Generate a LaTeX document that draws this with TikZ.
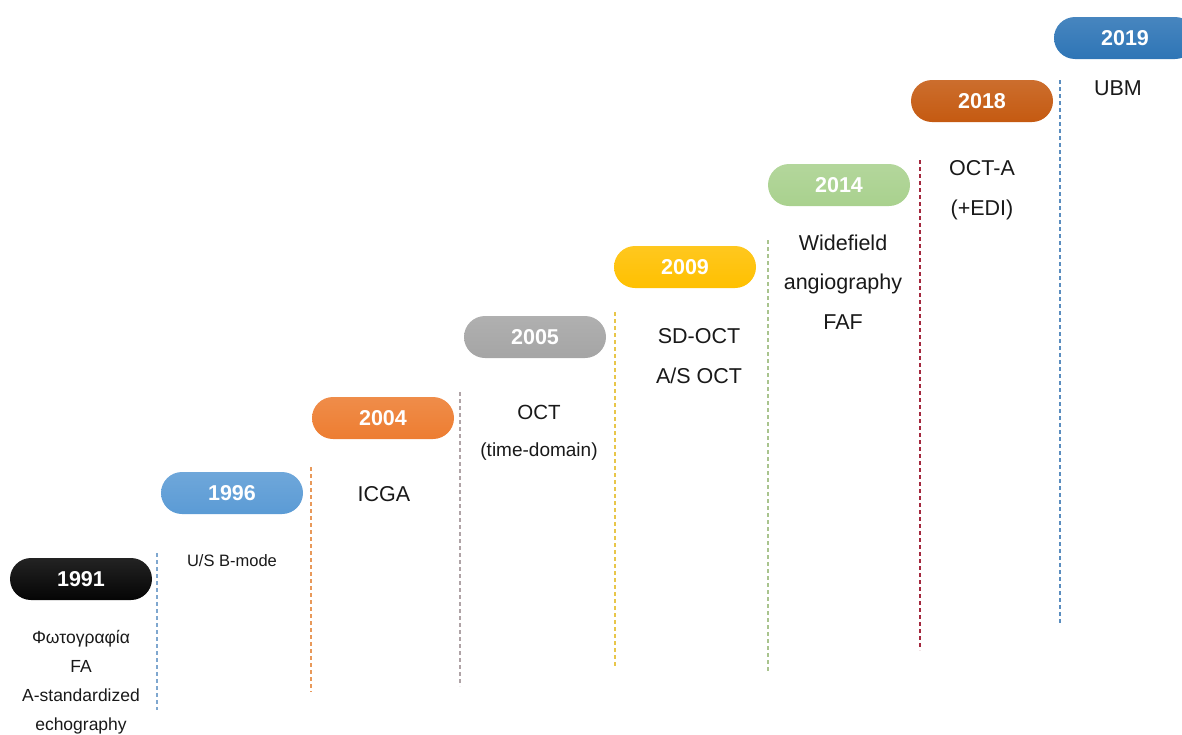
\documentclass[tikz,border=0pt]{standalone}
\usepackage{fontspec}
\setmainfont{Liberation Sans}
\usetikzlibrary{positioning}

% pill colours, one per year
\definecolor{c1991}{HTML}{050505}
\definecolor{c1996}{HTML}{5B9BD5}
\definecolor{c2004}{HTML}{ED7D31}
\definecolor{c2005}{HTML}{A5A5A5}
\definecolor{c2009}{HTML}{FFC000}
\definecolor{c2014}{HTML}{A9D18E}
\definecolor{c2018}{HTML}{C55A11}
\definecolor{c2019}{HTML}{2E75B6}
% separator colours
\definecolor{l1996}{HTML}{7FA7CF}
\definecolor{l2004}{HTML}{E8995A}
\definecolor{l2005}{HTML}{AFA3A6}
\definecolor{l2009}{HTML}{E8C64A}
\definecolor{l2014}{HTML}{A9C48E}
\definecolor{l2018}{HTML}{A3283E}
\definecolor{l2019}{HTML}{5A8DBF}

\begin{document}
\begin{tikzpicture}[
    x=1pt, y=-1pt,
    every node/.style={align=center},
    pill/.style={top color=#1!88!white, bottom color=#1, draw=none,
        rounded corners=21pt, minimum width=142pt, minimum height=42pt,
        inner sep=0pt, text=white, font=\fontsize{21.5}{24}\selectfont\bfseries},
    sep/.style={draw=#1, line width=1.1pt, dash pattern=on 4pt off 3pt},
    entry/.style={text=black!90, font=\fontsize{21.5}{39.5}\selectfont},
    smallentry/.style={text=black!90, font=\fontsize{17.5}{29}\selectfont}
]
\useasboundingbox (0,0) rectangle (1182,734);

% =========================================================
% Year pills
% =========================================================
\foreach \yr/\x/\y in {1991/81/579, 1996/232/493, 2004/383/418, 2005/535/337,
                       2009/685/267, 2014/839/185, 2018/982/101, 2019/1125/38} {
    \node[pill=c\yr] (p\yr) at (\x,\y) {\yr};
}

% Dashed column separators
\foreach \col/\x/\top/\bot in {l1996/157/553/710, l2004/311/467/692, l2005/460/392/686,
                               l2009/615/312/668, l2014/768/240/672, l2018/920/160/650,
                               l2019/1060/80/625} {
    \draw[sep=\col] (\x,\top) -- (\x,\bot);
}

% =========================================================
% Modalities below each year
% =========================================================
\node[smallentry, anchor=north] (t1991) at (81,627) {Φωτογραφία\\FA\\A-standardized\\echography};
\node[smallentry, font=\fontsize{16.5}{20}\selectfont, anchor=north] (t1996) at (232,551) {U/S B-mode};
\node[entry, anchor=north] (t2004) at (384,483) {ICGA};
\node[entry, font=\fontsize{20.5}{38}\selectfont, anchor=north] (t2005) at (539,402) {OCT\\[-1pt]{\fontsize{19}{20}\selectfont(time-domain)}};
\node[entry, anchor=north] (t2009) at (699,325) {SD-OCT\\A/S OCT};
\node[entry, anchor=north] (t2014) at (843,231) {Widefield\\angiography\\FAF};
\node[entry, anchor=north] (t2018) at (982,157) {OCT-A\\(+EDI)};
\node[entry, anchor=north] (t2019) at (1118,77) {UBM};

\end{tikzpicture}
\end{document}
